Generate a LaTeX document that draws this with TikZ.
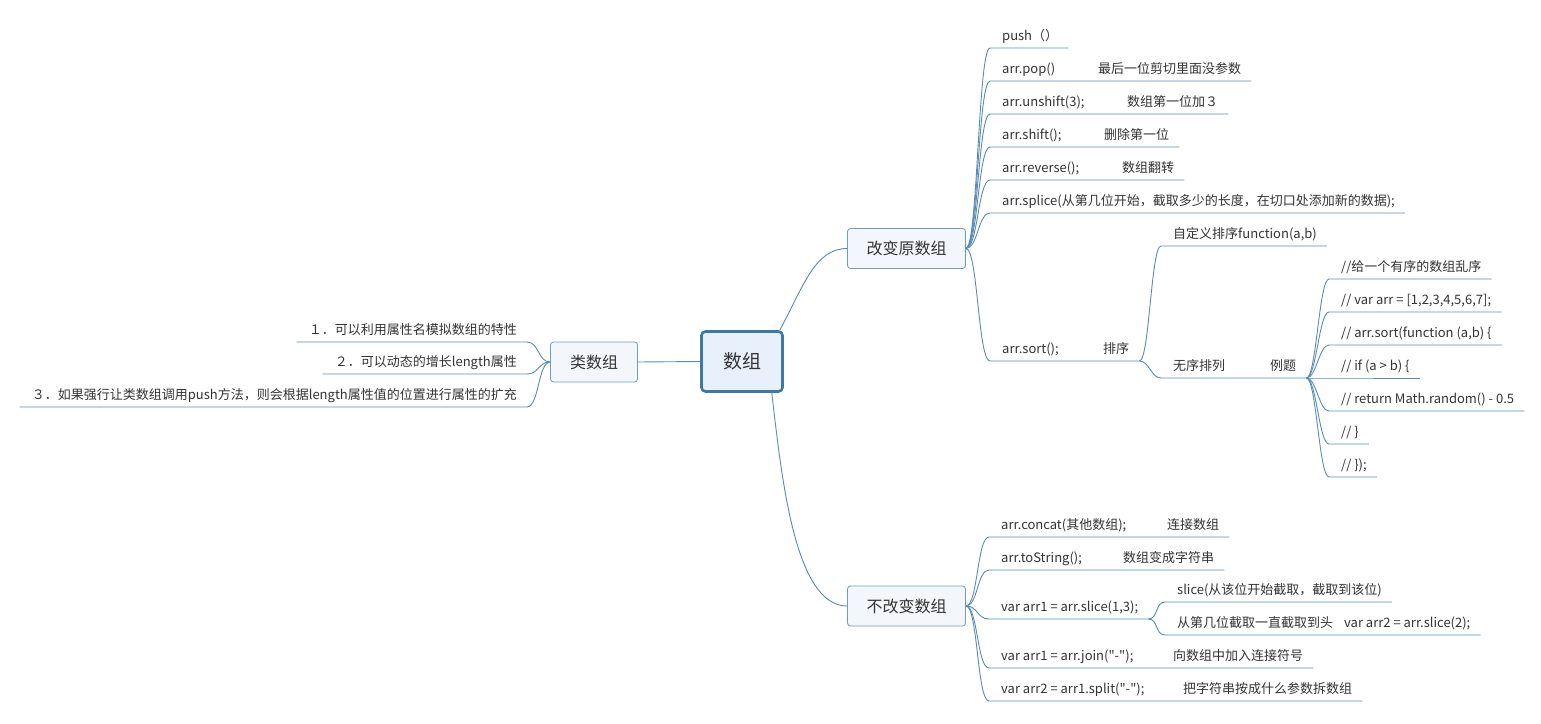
\documentclass[tikz,border=0pt]{standalone}
\usepackage{fontspec}
\setmainfont{Noto Sans CJK SC}[Ligatures=TeXOff]
\definecolor{linec}{HTML}{5A8BB5}
\definecolor{rootline}{HTML}{3E78A9}
\definecolor{rootfill}{HTML}{E8F1FB}
\definecolor{boxline}{HTML}{709BC3}
\definecolor{boxfill}{HTML}{F3F7FC}
\definecolor{txt}{HTML}{333333}
\begin{document}
\begin{tikzpicture}[x=1pt,y=-1pt,
    link/.style={draw=linec,line width=0.9pt},
    root/.style={draw=rootline,fill=rootfill,line width=2.6pt,rounded corners=4pt,
      minimum width=81pt,minimum height=60pt,text=txt,font=\fontsize{19}{22}\selectfont},
    topic/.style={draw=boxline,fill=boxfill,line width=0.8pt,rounded corners=3pt,
      minimum height=40pt,text=txt,font=\fontsize{16}{19}\selectfont},
    leaf/.style={inner sep=0pt,text height=10pt,text depth=7pt,text=txt,
      font=\fontsize{13}{15}\selectfont,
      execute at begin node=\hspace*{12pt},execute at end node=\hspace*{10pt}}]
    \useasboundingbox (0,0) rectangle (1541,723);
    % main topics
    \node[root] (root) at (742,361.5) {数组};
    \node[topic,minimum width=118pt] (change) at (906.5,248.5) {改变原数组};
    \node[topic,minimum width=118pt] (nochange) at (906.5,606) {不改变数组};
    \node[topic,minimum width=87pt] (like) at (594,362) {类数组};
    % 类数组
    \node[leaf,anchor=south east] (l1) at (527,342) {１．可以利用属性名模拟数组的特性};
    \node[leaf,anchor=south east] (l2) at (527,374) {２．可以动态的增长length属性};
    \node[leaf,anchor=south east] (l3) at (527,407) {３．如果强行让类数组调用push方法，则会根据length属性值的位置进行属性的扩充};
    % 改变原数组
    \node[leaf,anchor=south west] (push) at (990,48) {push（）};
    \node[leaf,anchor=south west] (pop) at (990,81) {\makebox[96pt][l]{arr.pop()}最后一位剪切里面没参数};
    \node[leaf,anchor=south west] (unshift) at (990,114) {\makebox[125pt][l]{arr.unshift(3);}数组第一位加３};
    \node[leaf,anchor=south west] (shift) at (990,147) {\makebox[102pt][l]{arr.shift();}删除第一位};
    \node[leaf,anchor=south west] (reverse) at (990,180) {\makebox[120pt][l]{arr.reverse();}数组翻转};
    \node[leaf,anchor=south west] (splice) at (990,213) {arr.splice(从第几位开始，截取多少的长度，在切口处添加新的数据);};
    \node[leaf,anchor=south west] (sort) at (990,361) {\makebox[101pt][l]{arr.sort();}排序};
    \node[leaf,anchor=south west] (cust) at (1161,246) {自定义排序function(a,b)};
    \node[leaf,anchor=south west] (rand) at (1161,378) {\makebox[97pt][l]{无序排列}例题};
    \node[leaf,anchor=south west] (ex1) at (1329,279) {//给一个有序的数组乱序};
    \node[leaf,anchor=south west] (ex2) at (1329,312) {// var arr = [1,2,3,4,5,6,7];};
    \node[leaf,anchor=south west] (ex3) at (1329,345) {// arr.sort(function (a,b) \{};
    \node[leaf,anchor=south west] (ex4) at (1329,378) {// if (a > b) \{};
    \node[leaf,anchor=south west] (ex5) at (1329,411) {// return Math.random() - 0.5};
    \node[leaf,anchor=south west] (ex6) at (1329,444) {// \}};
    \node[leaf,anchor=south west] (ex7) at (1329,477) {// \});};
    % 不改变数组
    \node[leaf,anchor=south west] (concat) at (989,537) {\makebox[166pt][l]{arr.concat(其他数组);}连接数组};
    \node[leaf,anchor=south west] (tostr) at (989,570) {\makebox[122pt][l]{arr.toString();}数组变成字符串};
    \node[leaf,anchor=south west] (slice) at (989,619) {var arr1 = arr.slice(1,3);};
    \node[leaf,anchor=south west] (slice1) at (1165,602) {slice(从该位开始截取，截取到该位)};
    \node[leaf,anchor=south west] (slice2) at (1165,635) {\makebox[167pt][l]{从第几位截取一直截取到头}var arr2 = arr.slice(2);};
    \node[leaf,anchor=south west] (join) at (989,668) {\makebox[172pt][l]{var arr1 = arr.join("-");}向数组中加入连接符号};
    \node[leaf,anchor=south west] (split) at (989,701) {\makebox[182pt][l]{var arr2 = arr1.split("-");}把字符串按成什么参数拆数组};
    % connectors
    \draw[link] (root.west) -- (like.east);
    \draw[link] ([xshift=-4pt]root.north east) .. controls +(24,-45) and +(-32,0) .. (change.west);
    \draw[link] ([xshift=-12pt]root.south east) .. controls +(10,87) and +(-52,0) .. (nochange.west);
    \foreach \n in {l1,l2,l3}
      \draw[link] (like.west) .. controls +(-12,0) and +(12,0) .. (\n.south east) -- (\n.south west);
    \foreach \n in {push,pop,unshift,shift,reverse,splice,sort}
      \draw[link] (change.east) .. controls +(12,0) and +(-12,0) .. (\n.south west) -- (\n.south east);
    \foreach \n in {cust,rand}
      \draw[link] (sort.south east) .. controls +(10,0) and +(-10,0) .. (\n.south west) -- (\n.south east);
    \foreach \n in {ex1,ex2,ex3,ex4,ex5,ex6,ex7}
      \draw[link] (rand.south east) .. controls +(10,0) and +(-10,0) .. (\n.south west) -- (\n.south east);
    \foreach \n in {concat,tostr,slice,join,split}
      \draw[link] (nochange.east) .. controls +(12,0) and +(-12,0) .. (\n.south west) -- (\n.south east);
    \foreach \n in {slice1,slice2}
      \draw[link] (slice.south east) .. controls +(10,0) and +(-10,0) .. (\n.south west) -- (\n.south east);
\end{tikzpicture}
\end{document}
